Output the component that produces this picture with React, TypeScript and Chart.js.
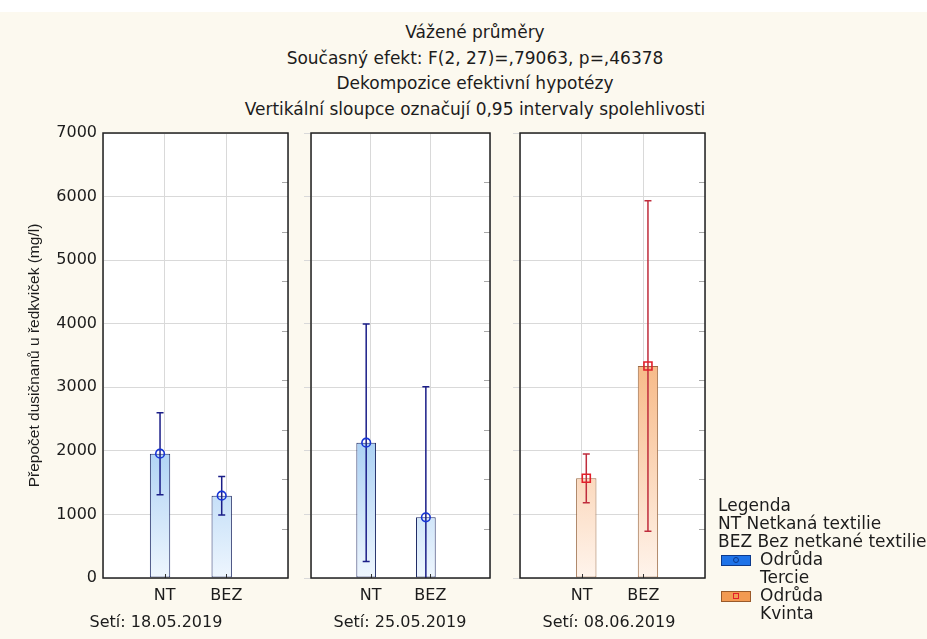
import React, { useEffect, useRef } from 'react';
import { Chart, registerables } from 'chart.js';

Chart.register(...registerables);

// ---- data ---------------------------------------------------------------
const categories = ['', 'NT', 'BEZ', ''];
const sowingLabels = ['Setí: 18.05.2019', 'Setí: 25.05.2019', 'Setí: 08.06.2019'];
const yTickValues = [0, 1000, 2000, 3000, 4000, 5000, 6000, 7000];

// weighted means per sowing date, [NT, BEZ]
const tercieMean = [[1955, 1295], [2128, 955], [null, null]];
const tercieLow = [[1310, 992], [261, -1100], [null, null]];
const tercieHigh = [[2600, 1595], [3995, 3010], [null, null]];

const kvintaMean = [[null, null], [null, null], [1568, 3335]];
const kvintaLow = [[null, null], [null, null], [1185, 735]];
const kvintaHigh = [[null, null], [null, null], [1950, 5935]];

const titleLines = [
  'Vážené průměry',
  'Současný efekt: F(2, 27)=,79063, p=,46378',
  'Dekompozice efektivní hypotézy',
  'Vertikální sloupce označují 0,95 intervaly spolehlivosti',
];
const yAxisTitle = 'Přepočet dusičnanů u ředkviček (mg/l)';
const legendTitle = 'Legenda';
const legendNotes = ['NT Netkaná textilie', 'BEZ Bez netkané textilie'];
const varietyNames = ['Tercie', 'Kvinta'];

// ---- layout & style -----------------------------------------------------
const W = 927;
const H = 639;
const PLOT_TOP = 133;
const PLOT_BOTTOM = 578;
const PANELS = [
  { left: 103, right: 288, label: 156 },
  { left: 311, right: 490, label: 400 },
  { left: 520, right: 705, label: 609 },
];
const FONT = 'DejaVu Sans';
const TEXT = '#1c1c1c';
const GRID = '#d9d9d9';
const PAGE_BG = '#fcf9ef';

const TERCIE = {
  stops: ['#eef6fe', '#86bcee', '#4590de'],
  border: '#1f2b66',
  whisker: '#1b1e88',
  marker: '#1634d6',
  swatch: '#1f73e8',
  swatchBorder: '#0d3a8c',
};
const KVINTA = {
  stops: ['#fff4ec', '#f7ba88', '#f0964c'],
  border: '#9c6a44',
  whisker: '#bf2c3c',
  marker: '#e21f2a',
  swatch: '#f29a52',
  swatchBorder: '#9a5a2a',
};

const pad = (v: (number | null)[]) => [null, ...v, null];

// vertical gradient spanning the whole plot height
const gradientFill = (stops: string[]) => (ctx: any) => {
  const { chart } = ctx;
  const a = chart.chartArea;
  if (!a) return stops[1];
  const g = chart.ctx.createLinearGradient(0, a.bottom, 0, a.top);
  g.addColorStop(0, stops[0]);
  g.addColorStop(0.48, stops[1]);
  g.addColorStop(1, stops[2]);
  return g;
};

// white plot area, confidence whiskers with mean markers, frame and inner ticks
const panelPlugin = {
  id: 'panelDecor',
  beforeDraw(chart: any) {
    const { ctx, chartArea: a } = chart;
    ctx.save();
    ctx.fillStyle = '#ffffff';
    ctx.fillRect(a.left, a.top, a.width, a.height);
    ctx.restore();
  },
  afterDatasetsDraw(chart: any) {
    const { ctx, chartArea: a } = chart;
    const y = chart.scales.y;
    ctx.save();
    ctx.beginPath();
    ctx.rect(a.left, a.top, a.width, a.height);
    ctx.clip();
    chart.data.datasets.forEach((ds: any, di: number) => {
      const meta = chart.getDatasetMeta(di);
      ds.data.forEach((mean: number | null, i: number) => {
        if (mean == null) return;
        const bar = meta.data[i];
        const x = bar.x;
        const yHi = y.getPixelForValue(ds.upper[i]);
        const yLo = y.getPixelForValue(ds.lower[i]);
        const yMean = y.getPixelForValue(mean);
        ctx.strokeStyle = ds.whisker;
        ctx.lineWidth = 1.5;
        ctx.beginPath();
        ctx.moveTo(x, yHi);
        ctx.lineTo(x, yLo);
        ctx.moveTo(x - 3.5, yHi);
        ctx.lineTo(x + 3.5, yHi);
        ctx.moveTo(x - 3.5, yLo);
        ctx.lineTo(x + 3.5, yLo);
        ctx.stroke();
        ctx.strokeStyle = ds.markerColor;
        ctx.lineWidth = 1.6;
        ctx.beginPath();
        if (ds.markerShape === 'circle') {
          ctx.arc(x, yMean, 4.3, 0, Math.PI * 2);
        } else {
          ctx.rect(x - 4, yMean - 4, 8, 8);
        }
        ctx.stroke();
      });
    });
    ctx.restore();
  },
  afterDraw(chart: any) {
    const { ctx, chartArea: a } = chart;
    const x = chart.scales.x;
    const yr = chart.scales.yr;
    ctx.save();
    // short inner ticks on the right edge
    ctx.strokeStyle = '#a8a8a8';
    ctx.lineWidth = 1;
    ctx.beginPath();
    yr.ticks.forEach((t: any) => {
      if (t.value <= yr.min || t.value >= yr.max) return;
      const py = Math.round(yr.getPixelForValue(t.value)) + 0.5;
      ctx.moveTo(a.right - 6, py);
      ctx.lineTo(a.right, py);
    });
    ctx.stroke();
    // inner ticks at the category positions
    ctx.strokeStyle = '#333333';
    ctx.beginPath();
    [1, 2].forEach((idx) => {
      const px = Math.round(x.getPixelForValue(idx)) + 0.5;
      ctx.moveTo(px, a.bottom - 4);
      ctx.lineTo(px, a.bottom);
    });
    ctx.stroke();
    // frame
    ctx.strokeStyle = '#202020';
    ctx.lineWidth = 1.5;
    ctx.strokeRect(a.left, a.top, a.width, a.height);
    ctx.restore();
  },
};

function buildConfig(p: number): any {
  const { left, right } = PANELS[p];
  const first = p === 0;
  const barShape = { categoryPercentage: 0.3, barPercentage: 2.2, borderWidth: 1, borderSkipped: false };
  return {
    type: 'bar',
    data: {
      labels: categories,
      datasets: [
        {
          label: varietyNames[0],
          data: pad(tercieMean[p]),
          lower: pad(tercieLow[p]),
          upper: pad(tercieHigh[p]),
          backgroundColor: gradientFill(TERCIE.stops),
          borderColor: TERCIE.border,
          whisker: TERCIE.whisker,
          markerColor: TERCIE.marker,
          markerShape: 'circle',
          ...barShape,
        },
        {
          label: varietyNames[1],
          data: pad(kvintaMean[p]),
          lower: pad(kvintaLow[p]),
          upper: pad(kvintaHigh[p]),
          backgroundColor: gradientFill(KVINTA.stops),
          borderColor: KVINTA.border,
          whisker: KVINTA.whisker,
          markerColor: KVINTA.marker,
          markerShape: 'square',
          ...barShape,
        },
      ],
    },
    options: {
      responsive: false,
      animation: false,
      events: [],
      layout: {
        padding: { left: first ? 0 : left - 8, right: W - right, top: PLOT_TOP, bottom: 0 },
      },
      plugins: { legend: { display: false }, tooltip: { enabled: false } },
      scales: {
        x: {
          type: 'category',
          offset: false,
          grid: { offset: false, color: GRID, drawTicks: false },
          border: { display: false },
          ticks: {
            autoSkip: false,
            maxRotation: 0,
            padding: 8,
            color: TEXT,
            font: { family: FONT, size: 16 },
          },
          afterFit: (s: any) => {
            s.height = H - PLOT_BOTTOM;
          },
        },
        y: {
          min: yTickValues[0],
          max: yTickValues[yTickValues.length - 1],
          afterBuildTicks: (s: any) => {
            s.ticks = yTickValues.map((v) => ({ value: v }));
          },
          grid: { color: GRID, drawTicks: !first, tickLength: 7 },
          border: { display: false },
          ticks: {
            display: first,
            padding: 6,
            color: TEXT,
            font: { family: FONT, size: 16 },
            callback: (v: any) => String(v),
          },
          title: {
            display: first,
            text: yAxisTitle,
            color: TEXT,
            padding: { top: 25, bottom: 0 },
            font: { family: 'Liberation Sans', size: 15.5 },
          },
          afterFit: (s: any) => {
            s.width = first ? left : 8;
          },
        },
        yr: {
          type: 'linear',
          position: 'right',
          display: false,
          min: 0,
          max: 9,
          ticks: { stepSize: 1 },
        },
      },
    },
    plugins: [panelPlugin],
  };
}

function Swatch({ fill, border, shape, markerColor }: any) {
  return (
    <span
      style={{
        display: 'inline-block',
        position: 'relative',
        width: 30,
        height: 11,
        marginLeft: 3,
        marginRight: 9,
        background: fill,
        border: `1px solid ${border}`,
        boxSizing: 'border-box',
        verticalAlign: 'middle',
      }}
    >
      <span
        style={{
          position: 'absolute',
          left: 11,
          top: 1.5,
          width: 6,
          height: 6,
          border: `1.3px solid ${markerColor}`,
          borderRadius: shape === 'circle' ? '50%' : 0,
          boxSizing: 'border-box',
        }}
      />
    </span>
  );
}

export default function App() {
  const r0 = useRef<HTMLCanvasElement>(null);
  const r1 = useRef<HTMLCanvasElement>(null);
  const r2 = useRef<HTMLCanvasElement>(null);

  useEffect(() => {
    const charts = [r0, r1, r2].map((r, i) => new Chart(r.current as HTMLCanvasElement, buildConfig(i)));
    return () => charts.forEach((c) => c.destroy());
  }, []);

  const canvasStyle: React.CSSProperties = { position: 'absolute', left: 0, top: 0 };

  return (
    <div
      style={{
        position: 'absolute',
        left: 0,
        top: 0,
        width: W,
        height: H,
        overflow: 'hidden',
        background: PAGE_BG,
        fontFamily: FONT,
        color: TEXT,
      }}
    >
      <div style={{ position: 'absolute', left: 0, top: 0, width: W, height: 12, background: '#ffffff' }} />
      <div
        style={{
          position: 'absolute',
          left: 475,
          top: 20,
          transform: 'translateX(-50%)',
          whiteSpace: 'nowrap',
          textAlign: 'center',
          fontSize: 17,
          lineHeight: '25.5px',
        }}
      >
        {titleLines.map((t) => (
          <div key={t}>{t}</div>
        ))}
      </div>

      <canvas ref={r0} width={W} height={H} style={canvasStyle} />
      <canvas ref={r1} width={W} height={H} style={canvasStyle} />
      <canvas ref={r2} width={W} height={H} style={canvasStyle} />

      {sowingLabels.map((s, i) => (
        <div
          key={s}
          style={{
            position: 'absolute',
            left: PANELS[i].label,
            top: 612,
            transform: 'translateX(-50%)',
            whiteSpace: 'nowrap',
            fontSize: 16,
            lineHeight: '20px',
          }}
        >
          {s}
        </div>
      ))}

      <div
        style={{
          position: 'absolute',
          left: 718,
          top: 496,
          whiteSpace: 'nowrap',
          fontSize: 17,
          lineHeight: '18px',
        }}
      >
        <div>{legendTitle}</div>
        {legendNotes.map((n) => (
          <div key={n}>{n}</div>
        ))}
        <div>
          <Swatch fill={TERCIE.swatch} border={TERCIE.swatchBorder} shape="circle" markerColor={TERCIE.swatchBorder} />
          Odrůda
        </div>
        <div style={{ paddingLeft: 42 }}>{varietyNames[0]}</div>
        <div>
          <Swatch fill={KVINTA.swatch} border={KVINTA.swatchBorder} shape="square" markerColor={KVINTA.marker} />
          Odrůda
        </div>
        <div style={{ paddingLeft: 42 }}>{varietyNames[1]}</div>
      </div>
    </div>
  );
}
